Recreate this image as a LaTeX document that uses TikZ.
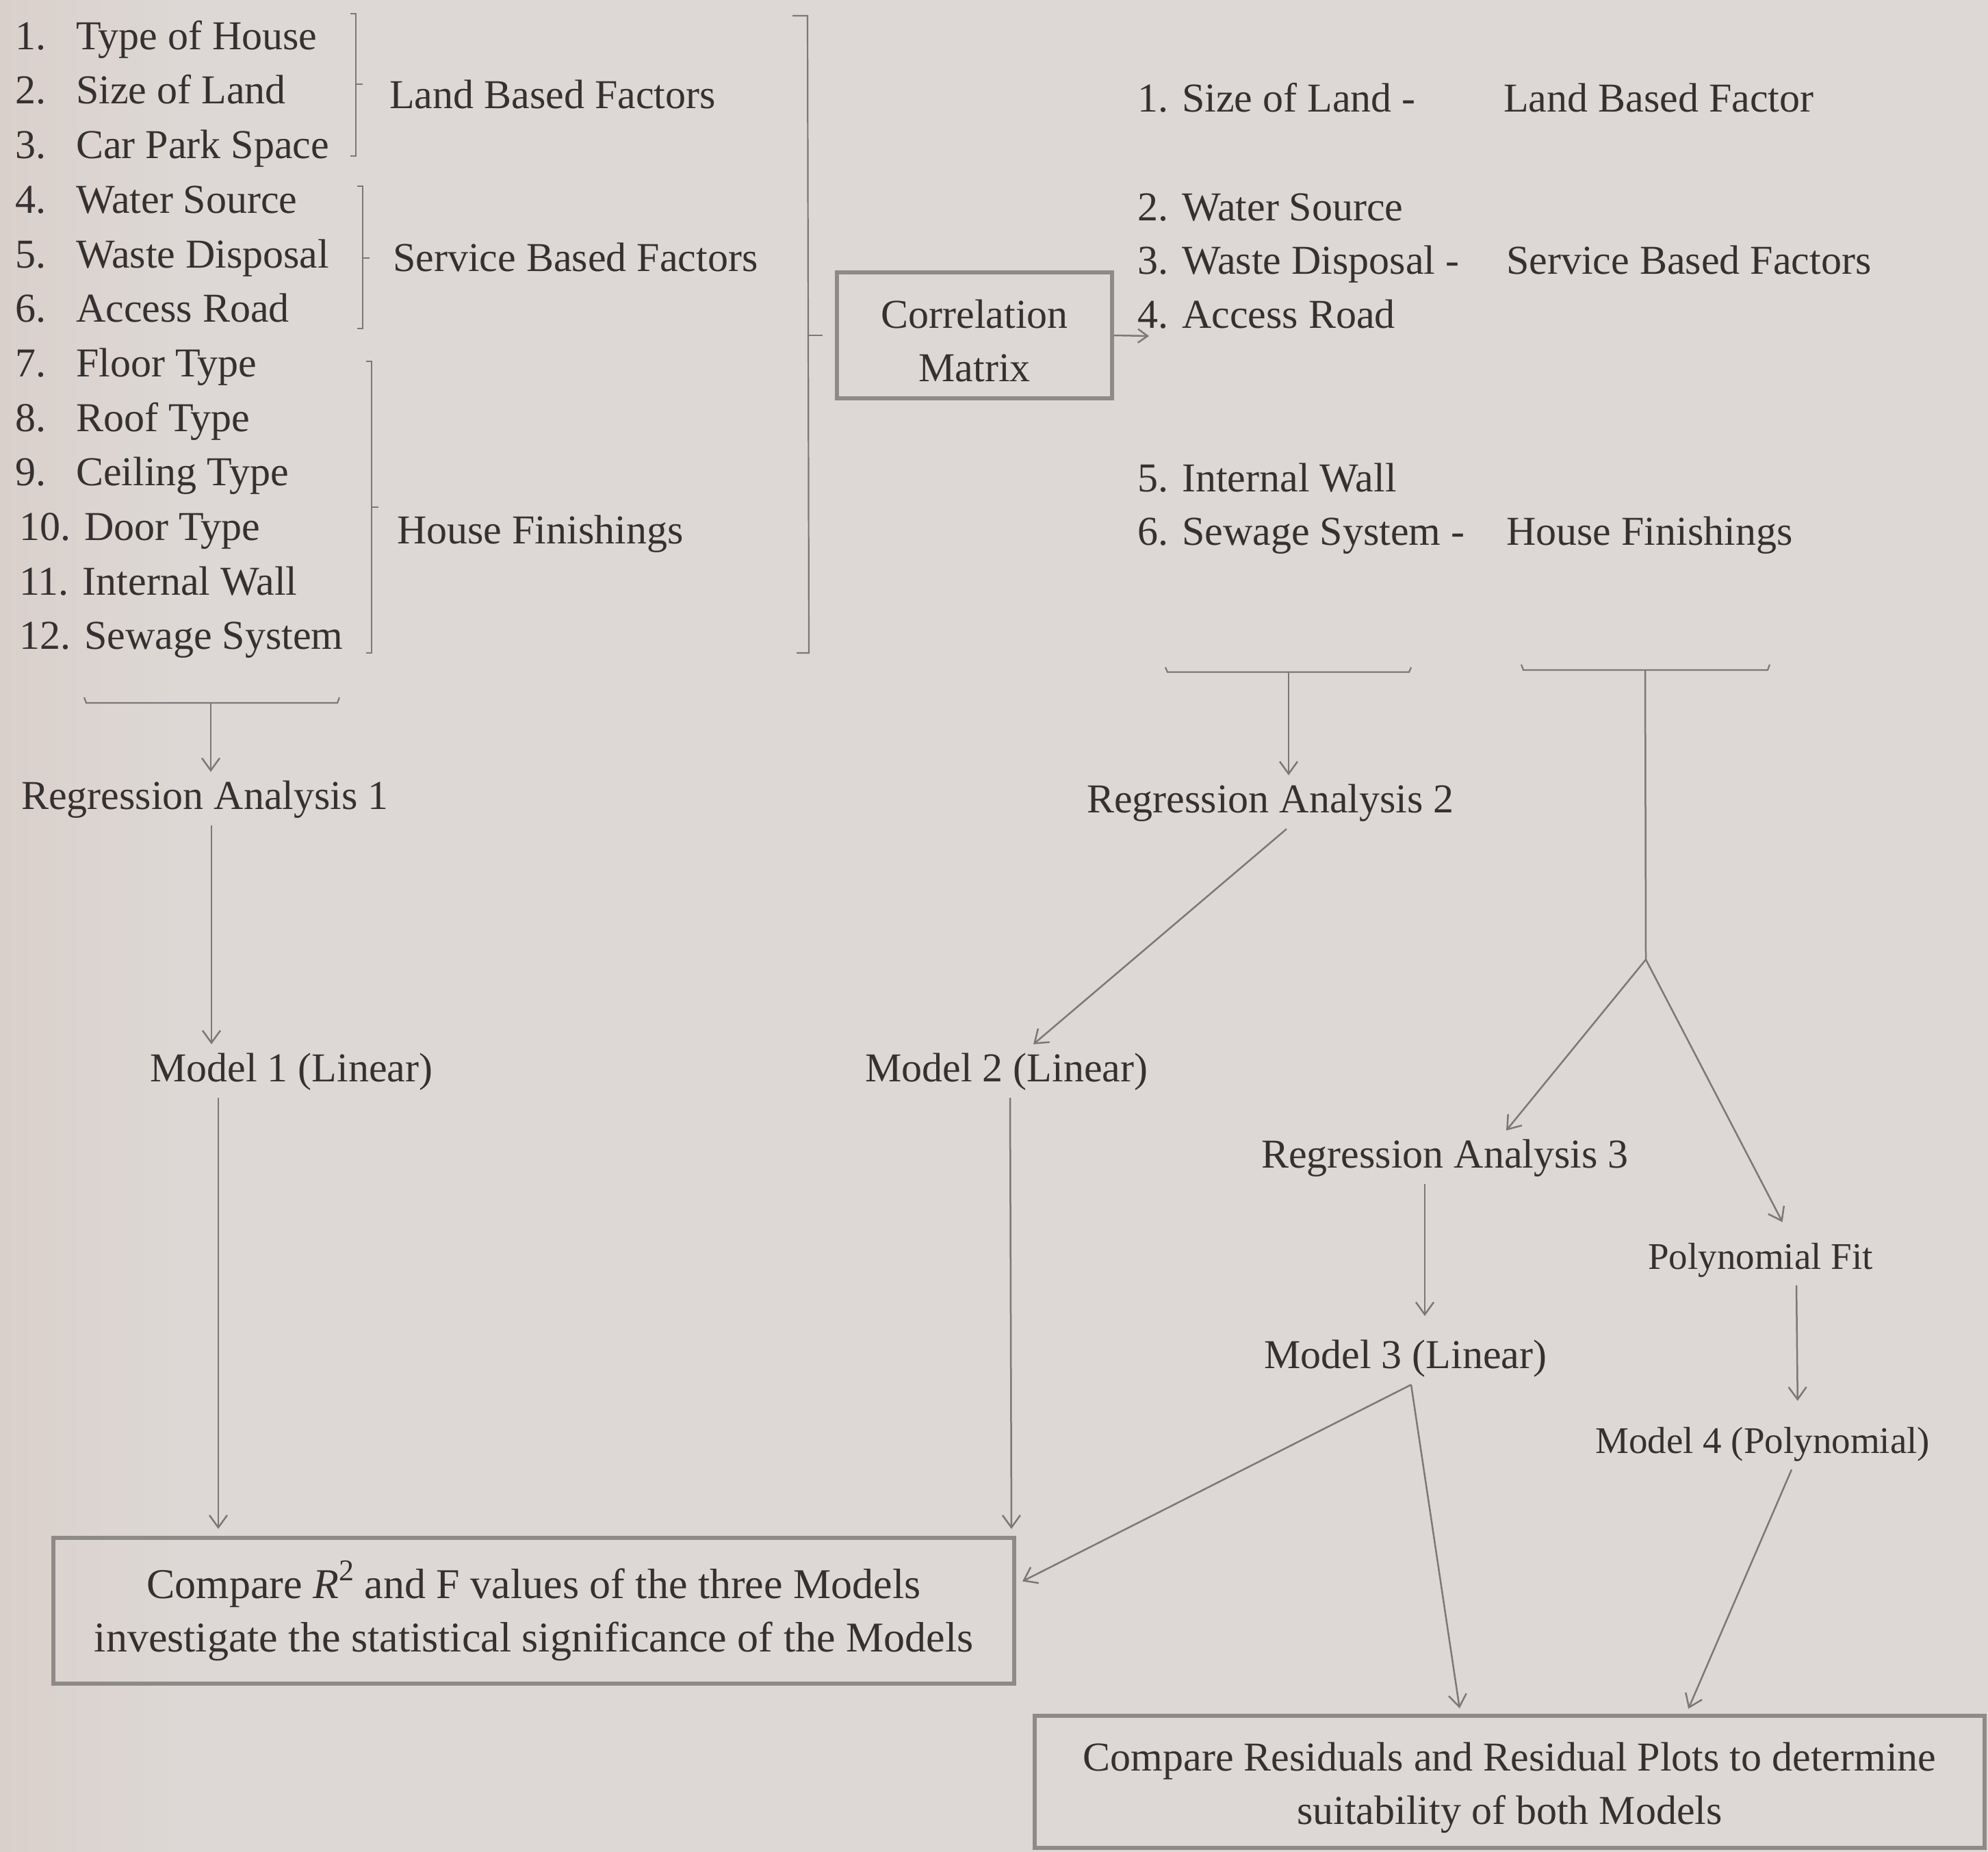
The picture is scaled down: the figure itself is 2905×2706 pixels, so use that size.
\documentclass[tikz,border=0pt]{standalone}
\usepackage{fontspec}
\setmainfont{Liberation Serif}
\usetikzlibrary{arrows.meta}
\definecolor{bg}{HTML}{DDD8D5}
\definecolor{bgl}{HTML}{DAD0CB}
\definecolor{ink}{HTML}{353131}
\definecolor{ln}{HTML}{7C7878}
\definecolor{bx}{HTML}{8E8A88}
\begin{document}
\begin{tikzpicture}[x=1pt,y=-1pt,
  every node/.style={text=ink},
  lbl/.style={anchor=base west, inner sep=0pt, font=\fontsize{60}{72}\selectfont},
  flow/.style={anchor=base west, inner xsep=0pt, inner ysep=10pt, text height=44pt, text depth=14pt, font=\fontsize{60}{72}\selectfont},
  smallf/.style={font=\fontsize{55}{66}\selectfont},
  brace/.style={draw=ln, line width=2.2pt},
  conn/.style={draw=ln, line width=2.5pt, -{Straight Barb[length=18pt,width=26pt,line width=2.5pt]}},
  plain/.style={draw=ln, line width=2.5pt},
  boxed/.style={draw=bx, line width=6pt, align=center, inner sep=0pt, font=\fontsize{62}{78}\selectfont}
]
\fill[bg] (0,0) rectangle (2905,2706);
\shade[left color=bgl, right color=bg] (0,0) rectangle (260,2706);
\useasboundingbox (0,0) rectangle (2905,2706);

% left list
\node[lbl] (l1) at (22,72) {\makebox[89pt][l]{1.}Type of House};
\node[lbl] (l2) at (22,151) {\makebox[89pt][l]{2.}Size of Land};
\node[lbl] (l3) at (22,231) {\makebox[89pt][l]{3.}Car Park Space};
\node[lbl] (l4) at (22,311) {\makebox[89pt][l]{4.}Water Source};
\node[lbl] (l5) at (22,391) {\makebox[89pt][l]{5.}Waste Disposal};
\node[lbl] (l6) at (22,470) {\makebox[89pt][l]{6.}Access Road};
\node[lbl] (l7) at (22,550) {\makebox[89pt][l]{7.}Floor Type};
\node[lbl] (l8) at (22,630) {\makebox[89pt][l]{8.}Roof Type};
\node[lbl] (l9) at (22,709) {\makebox[89pt][l]{9.}Ceiling Type};
\node[lbl] (l10) at (28,789) {10. Door Type};
\node[lbl] (l11) at (28,869) {11. Internal Wall};
\node[lbl] (l12) at (28,948) {12. Sewage System};

% group labels
\node[lbl] (g1) at (569,158) {Land Based Factors};
\node[lbl] (g2) at (574,396) {Service Based Factors};
\node[lbl] (g3) at (580,794) {House Finishings};

% braces
\draw[brace] (512,20) -- (520,20) -- (520,228) -- (512,228);
\draw[brace] (520,123) -- (530,123);
\draw[brace] (522,272) -- (530,272) -- (530,480) -- (522,480);
\draw[brace] (530,377) -- (540,377);
\draw[brace] (535,528) -- (543,528) -- (543,954) -- (535,954);
\draw[brace] (543,741) -- (553,741);
\draw[brace] (1158,23) -- (1180,23) -- (1182,954) -- (1164,954);
\draw[brace] (1182,490) -- (1202,490);

% correlation matrix
\node[boxed, minimum width=402pt, minimum height=184pt, font=\fontsize{60}{78}\selectfont] (cm) at (1424,490) {\rule{0pt}{58pt}Correlation\\Matrix};
\coordinate (cmend) at (1679,491);
\draw[conn, -{Straight Barb[length=14pt,width=20pt,line width=2.5pt]}] (cm.east) -- (cmend);

% right list
\node[lbl] (r1) at (1662,163) {1. Size of Land -};
\node[lbl] (r2) at (1662,322) {2. Water Source};
\node[lbl] (r3) at (1662,400) {3. Waste Disposal -};
\node[lbl] (r4) at (1662,479) {4. Access Road};
\node[lbl] (r5) at (1662,718) {5. Internal Wall};
\node[lbl] (r6) at (1662,796) {6. Sewage System -};
\node[lbl] (rg1) at (2197,163) {Land Based Factor};
\node[lbl] (rg2) at (2201,400) {Service Based Factors};
\node[lbl] (rg3) at (2201,796) {House Finishings};

% bottom braces
\draw[brace] (123,1019) -- (126,1027) -- (493,1027) -- (496,1019);
\draw[brace] (1703,975) -- (1706,982) -- (2059,982) -- (2062,975);
\draw[brace] (2223,971) -- (2226,979) -- (2583,979) -- (2586,971);
\coordinate (b1) at (308,1027);
\coordinate (b2) at (1883,982);
\coordinate (b3) at (2404,979);
\coordinate (fork) at (2405,1402);

% flow nodes
\node[flow] (ra1) at (31,1182) {Regression Analysis 1};
\node[flow] (m1) at (219,1580) {Model 1 (Linear)};
\node[flow] (ra2) at (1588,1187) {Regression Analysis 2};
\node[flow] (m2) at (1264,1580) {Model 2 (Linear)};
\node[flow] (ra3) at (1843,1706) {Regression Analysis 3};
\node[flow] (m3) at (1847,1999) {Model 3 (Linear)};
\node[flow, smallf] (pf) at (2408,1854) {Polynomial Fit};
\node[flow, smallf] (m4) at (2331,2123) {Model 4 (Polynomial)};

\node[boxed, minimum width=1404pt, minimum height=213pt] (cmp1) at (780,2353.5)
  {Compare \textit{R}\raisebox{0.42em}{\fontsize{44}{44}\selectfont 2} and F values of the three Models\\investigate the statistical significance of the Models};
\node[boxed, minimum width=1388pt, minimum height=193pt, font=\fontsize{60}{78}\selectfont] (cmp2) at (2206,2603.5)
  {\rule{0pt}{58pt}Compare Residuals and Residual Plots to determine\\suitability of both Models};

% x guides
\coordinate (x309) at (309,0);
\coordinate (x319) at (319,0);
\coordinate (x1880) at (1880,0);
\coordinate (x1510) at (1510,0);
\coordinate (x1476) at (1476,0);
\coordinate (x1478) at (1478,0);
\coordinate (x2201) at (2201,0);
\coordinate (x2612) at (2612,0);
\coordinate (x2082) at (2082,0);
\coordinate (x2625) at (2625,0);
\coordinate (x2627) at (2627,0);
\coordinate (x2062) at (2062,0);
\coordinate (x2134) at (2134,0);
\coordinate (x2618) at (2618,0);
\coordinate (x2464) at (2464,0);

% connectors
\draw[conn] (b1) -- (ra1.north -| b1);
\draw[conn] (ra1.south -| x309) -- (m1.north -| x309);
\draw[conn, shorten >=10pt] (m1.south -| x319) -- (cmp1.north -| x319);
\draw[conn] (b2) -- (ra2.north -| b2);
\draw[conn] (ra2.south -| x1880) -- (m2.north -| x1510);
\draw[conn, shorten >=10pt] (m2.south -| x1476) -- (cmp1.north -| x1478);
\draw[plain] (b3) -- (fork);
\draw[conn] (fork) -- (ra3.north -| x2201);
\draw[conn, shorten >=16pt] (fork) -- (pf.north -| x2612);
\draw[conn, shorten >=22pt] (ra3.south -| x2082) -- (m3.north -| x2082);
\draw[conn, shorten >=22pt] (pf.south -| x2625) -- (m4.north -| x2627);
\draw[conn] (m3.south -| x2062) -- ([xshift=9pt,yshift=43pt]cmp1.east);
\draw[conn, shorten >=8pt] (m3.south -| x2062) -- (cmp2.north -| x2134);
\draw[conn, shorten >=8pt] (m4.south -| x2618) -- (cmp2.north -| x2464);
\end{tikzpicture}
\end{document}
